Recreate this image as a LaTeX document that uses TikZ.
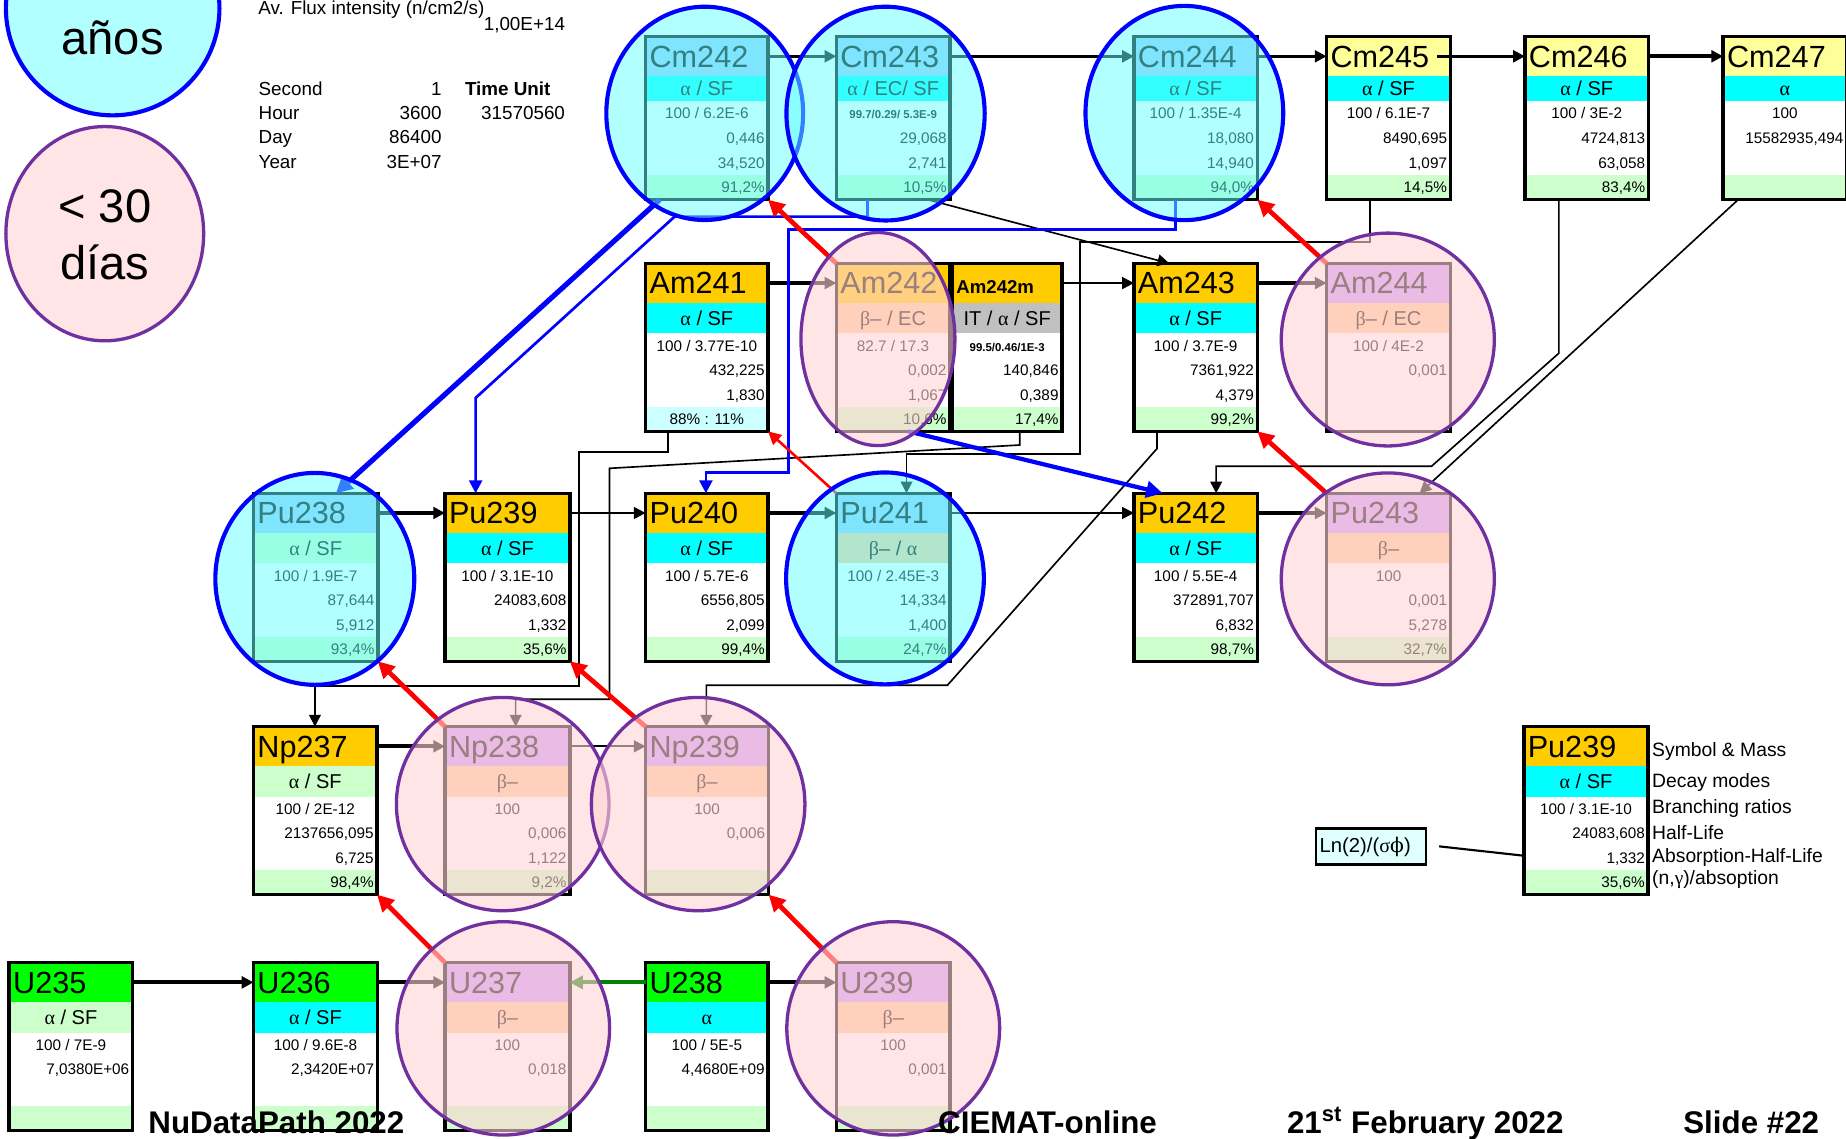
\documentclass[tikz,border=0pt]{standalone}
\usepackage{fontspec}
\setmainfont{Liberation Sans}
\newfontfamily\grk{Liberation Serif}
\newfontfamily\grkd{DejaVu Serif}
\usetikzlibrary{arrows.meta,calc}
\definecolor{hAm}{HTML}{FFCC00}
\definecolor{hCm}{HTML}{FFFF99}
\definecolor{hBl}{HTML}{99CCFF}
\definecolor{hLv}{HTML}{CC99FF}
\definecolor{hU}{HTML}{00FF00}
\definecolor{dCy}{HTML}{00FFFF}
\definecolor{dGr}{HTML}{CCFFCC}
\definecolor{dTn}{HTML}{FFCC99}
\definecolor{dGy}{HTML}{C0C0C0}
\definecolor{lCy}{HTML}{CCFFFF}
\definecolor{ovC}{rgb}{0.4,1,1}
\definecolor{ovP}{rgb}{1,0.83,0.83}
\definecolor{prp}{HTML}{7030A0}
\definecolor{legC}{rgb}{0.7,1,1}
\definecolor{legP}{rgb}{1,0.9,0.9}
\definecolor{lnC}{rgb}{0.88,1,1}
\definecolor{grn}{HTML}{008000}
\newcommand\gAl{{\grk α}}
\newcommand\gBe{{\grk β}}
\newcommand\gGa{{\grk γ}}
\newcommand\gSi{{\grk σ}}
\newcommand\bsm{\fontsize{4.85}{5}\selectfont\bfseries}
\tikzset{
  boxframe/.style={draw=black, line width=1.5pt, inner sep=0pt, outer sep=0pt, rectangle},
  hdr/.style={font=\fontsize{13}{13}\selectfont, inner sep=0pt, anchor=base west},
  dec/.style={font=\fontsize{8.5}{8.5}\selectfont, inner sep=0pt, anchor=base},
  dat/.style={font=\fontsize{6.5}{6.5}\selectfont, inner sep=0pt},
  lbl/.style={font=\fontsize{8}{8}\selectfont, inner sep=0pt},
  lgl/.style={font=\fontsize{8.2}{8.2}\selectfont, inner sep=0pt, anchor=base west},
  foot/.style={font=\fontsize{13.3}{13.3}\selectfont\bfseries, inner sep=0pt, anchor=base west},
  big/.style={font=\fontsize{20}{20}\selectfont, inner sep=0pt, anchor=base},
  arr/.style={-{Triangle[length=5pt,width=5pt]}, line width=0.85pt},
  arrM/.style={arr, line width=1.2pt},
  arrT/.style={arr, line width=1.7pt},
  blkP/.style={-{Triangle[length=5pt,width=5pt]}, line width=0.7pt},
  redA/.style={draw=red, line width=2pt, -{Triangle[length=7pt,width=7pt]}},
  redAt/.style={draw=red, line width=1.1pt, -{Triangle[length=5.5pt,width=5.5pt]}},
  bluA/.style={draw=blue, line width=1.15pt, -{Triangle[length=5.5pt,width=5.5pt]}},
  bluAt/.style={draw=blue, line width=2.2pt, -{Triangle[length=7pt,width=7pt]}},
  grnA/.style={draw=grn, line width=1.7pt, -{Triangle[length=5.5pt,width=5.5pt]}},
  ovcyan/.style={fill=ovC, fill opacity=0.5, draw=blue, line width=1.75pt},
  ovpink/.style={fill=ovP, fill opacity=0.6, draw=prp, line width=1.4pt}
}
% row geometry (decay row height, data row height)
\def\decH{21}\def\rowH{21}
\newcommand\nrows[5]{%
  \fill[#5] (\bx,\by+33.5+\decH+3*\rowH) rectangle ++(\bw,\rowH);
  \node[dat,anchor=base] (\bid-br) at (\bx+\bw/2,\by+33.5+\decH+0.5*\rowH+4.65) {#1};
  \node[dat,anchor=base east] (\bid-hl) at (\bx+\bw-2.5,\by+33.5+\decH+1.5*\rowH+4.65) {#2};
  \node[dat,anchor=base east] (\bid-al) at (\bx+\bw-2.5,\by+33.5+\decH+2.5*\rowH+4.65) {#3};
  \node[dat,anchor=base east] (\bid-ng) at (\bx+\bw-2.5,\by+33.5+\decH+3.5*\rowH+4.65) {#4};
}
\newcommand\nbox[9]{%
  \def\bx{#2}\def\by{#3}\def\bw{#4}\def\bid{#1}%
  \fill[#5] (#2,#3) rectangle ++(#4,33.5);
  \fill[#7] (#2,#3+33.5) rectangle ++(#4,\decH);
  \fill[white] (#2,#3+33.5+\decH) rectangle ++(#4,3*\rowH);
  \node[hdr] (#1-name) at (#2+3,#3+26) {#6};
  \node[dec] (#1-mode) at (#2+#4/2,#3+33.5+0.5*\decH+6) {#8};
  \nrows#9
  \node[boxframe, minimum width=#4*0.5pt, minimum height={(33.5+\decH+4*\rowH)*0.5pt}, anchor=north west] (#1) at (#2,#3) {};
  \coordinate (#1-hw) at (#2,#3+16.75);
  \coordinate (#1-he) at (#2+#4,#3+16.75);
}
\begin{document}
\begin{tikzpicture}[x=0.5pt,y=-0.5pt]
\useasboundingbox (0,0) rectangle (1568,967);
\clip (0,0) rectangle (1568,967);
\fill[white] (0,0) rectangle (1568,967);
% ---------- boxes: curium row ----------
\def\decH{21}\def\rowH{21}
\nbox{Cm242}{548.4}{31.1}{104}{hBl}{Cm242}{dCy}{\gAl{} / SF}{{100 / 6.2E-6}{0,446}{34,520}{91,2\%}{dGr}}
\nbox{Cm243}{710.4}{31.1}{96.6}{hBl}{Cm243}{dCy}{\gAl{} / EC/ SF}{{\bsm 99.7/0.29/ 5.3E-9}{29,068}{2,741}{10,5\%}{dGr}}
\nbox{Cm244}{963.2}{31.1}{104.8}{hBl}{Cm244}{dCy}{\gAl{} / SF}{{100 / 1.35E-4}{18,080}{14,940}{94,0\%}{dGr}}
\nbox{Cm245}{1126.8}{31.1}{105.2}{hCm}{Cm245}{dCy}{\gAl{} / SF}{{100 / 6.1E-7}{8490,695}{1,097}{14,5\%}{dGr}}
\nbox{Cm246}{1295.3}{31.1}{105}{hCm}{Cm246}{dCy}{\gAl{} / SF}{{100 / 3E-2}{4724,813}{63,058}{83,4\%}{dGr}}
\nbox{Cm247}{1463.6}{31.1}{105}{hCm}{Cm247}{dCy}{\gAl}{{100}{15582935,494}{}{}{dGr}}
% ---------- other rows ----------
\def\decH{26}\def\rowH{20.8}
\nbox{Am241}{548.4}{223.7}{104}{hAm}{Am241}{dCy}{\gAl{} / SF}{{100 / 3.77E-10}{432,225}{1,830}{}{lCy}}
\node[dat,anchor=base] (Am241-nx) at (600.4,360.9) {88\% : 11\%};
\nbox{Am242}{710.4}{223.7}{96.4}{hAm}{Am242}{dTn}{\gBe– / EC}{{82.7 / 17.3}{0,002}{1,067}{10,6\%}{dGr}}
\nbox{Am242m}{809}{223.7}{93}{hAm}{\fontsize{7.9}{8}\selectfont\bfseries Am242m}{dGy}{IT / \gAl{} / SF}{{\bsm 99.5/0.46/1E-3}{140,846}{0,389}{17,4\%}{dGr}}
\nbox{Am243}{963.2}{223.7}{104.8}{hAm}{Am243}{dCy}{\gAl{} / SF}{{100 / 3.7E-9}{7361,922}{4,379}{99,2\%}{dGr}}
\nbox{Am244}{1126.8}{223.7}{105.2}{hLv}{Am244}{dTn}{\gBe– / EC}{{100 / 4E-2}{0,001}{}{}{white}}
\nbox{Pu238}{215.3}{419}{105.6}{hBl}{Pu238}{dGr}{\gAl{} / SF}{{100 / 1.9E-7}{87,644}{5,912}{93,4\%}{dGr}}
\nbox{Pu239}{378}{419}{106}{hAm}{Pu239}{dCy}{\gAl{} / SF}{{100 / 3.1E-10}{24083,608}{1,332}{35,6\%}{dGr}}
\nbox{Pu240}{548.4}{419}{104}{hAm}{Pu240}{dCy}{\gAl{} / SF}{{100 / 5.7E-6}{6556,805}{2,099}{99,4\%}{dGr}}
\nbox{Pu241}{710.4}{419}{96.6}{hBl}{Pu241}{dTn}{\gBe– / \gAl}{{100 / 2.45E-3}{14,334}{1,400}{24,7\%}{dGr}}
\nbox{Pu242}{963.2}{419}{104.8}{hAm}{Pu242}{dCy}{\gAl{} / SF}{{100 / 5.5E-4}{372891,707}{6,832}{98,7\%}{dGr}}
\nbox{Pu243}{1126.8}{419}{105.2}{hLv}{Pu243}{dTn}{\gBe–}{{100}{0,001}{5,278}{32,7\%}{dGr}}
\nbox{Np237}{215.3}{617.2}{105}{hAm}{Np237}{dGr}{\gAl{} / SF}{{100 / 2E-12}{2137656,095}{6,725}{98,4\%}{dGr}}
\nbox{Np238}{378}{617.2}{106}{hLv}{Np238}{dTn}{\gBe–}{{100}{0,006}{1,122}{9,2\%}{dGr}}
\nbox{Np239}{548.4}{617.2}{104.5}{hLv}{Np239}{dTn}{\gBe–}{{100}{0,006}{}{}{dGr}}
\nbox{Lg}{1294.3}{617.2}{105.7}{hAm}{Pu239}{dCy}{\gAl{} / SF}{{100 / 3.1E-10}{24083,608}{1,332}{35,6\%}{dGr}}
\nbox{U235}{7.8}{817.7}{104.9}{hU}{U235}{dGr}{\gAl{} / SF}{{100 / 7E-9}{7,0380E+06}{}{}{dGr}}
\nbox{U236}{215.3}{817.7}{105.3}{hU}{U236}{dCy}{\gAl{} / SF}{{100 / 9.6E-8}{2,3420E+07}{}{}{dGr}}
\nbox{U237}{378}{817.7}{106}{hLv}{U237}{dTn}{\gBe–}{{100}{0,018}{}{}{dGr}}
\nbox{U238}{548.4}{817.7}{104}{hU}{U238}{dCy}{\gAl}{{100 / 5E-5}{4,4680E+09}{}{}{dGr}}
\nbox{U239}{710.4}{817.7}{96.6}{hLv}{U239}{dTn}{\gBe–}{{100}{0,001}{}{}{dGr}}
% ---------- capture arrows ----------
\draw[arrM] (Cm242-he) -- (Cm243-hw);
\draw[arrM] (Cm243-he) -- (Cm244-hw);
\draw[arrM] (Cm244-he) -- (Cm245-hw);
\draw[arrM] ([xshift=-5.5pt]Cm245-he) -- (Cm246-hw);
\draw[arrT] (Cm246-he) -- (Cm247-hw);
\draw[arrT] (Am241-he) -- (Am242-hw);
\draw[arr] (Am242m-he) -- (Am243-hw);
\draw[arrT] (Am243-he) -- (Am244-hw);
\draw[arrT] (Pu238-he) -- (Pu239-hw);
\draw[arr] (Pu239-he) -- (Pu240-hw);
\draw[arrT] (Pu240-he) -- (Pu241-hw);
\draw[arr] (Pu241-he) -- (Pu242-hw);
\draw[arrT] (Pu242-he) -- (Pu243-hw);
\draw[arrT] (Np237-he) -- (Np238-hw);
\draw[arr] (Np238-he) -- (Np239-hw);
\draw[arrT] (U235-he) -- (U236-hw);
\draw[arrT] (U236-he) -- (U237-hw);
\draw[arrT] (U238-he) -- (U239-hw);
\draw[grnA] (U238-hw) -- (U237-he);
% ---------- alpha / EC paths ----------
\draw[blkP] ([xshift=-9.5pt]Cm243.south east) -- ([xshift=15pt]Am243.north west);
\draw[blkP] ([xshift=18.5pt]Cm245.south west) -- ++(0,36) -| (917.3,385.6) -| ([xshift=29.8pt]Pu241.north west);
\draw[blkP] ([xshift=14.4pt]Cm246.south west) -- ++(0,130.4) -- (1216,396) -| ([xshift=34.9pt]Pu242.north west);
\draw[blkP] ([xshift=6.4pt]Cm247.south west) -- ([xshift=39.5pt]Pu243.north west);
\draw[blkP] ([xshift=9.5pt]Am241.south west) -- ++(0,17.3) -| (491.7,582.7) -| ([xshift=26.1pt]Np237.north west);
\draw[blkP] ([xshift=28.6pt]Am242m.south west) -- ++(0,11.6) -- (517.7,397.8) -- (517.7,594) -| ([xshift=30pt]Np238.north west);
\draw[blkP] ([xshift=9.8pt]Am243.south west) -- ++(0,14.6) -- (804.8,582) -| ([xshift=25.8pt]Np239.north west);
\draw[bluAt] ([xshift=6pt]Cm242.south west) -- ([xshift=35pt]Pu238.north west);
\draw[bluA] ([xshift=13.2pt]Cm243.south west) -- ++(0,14.4) -- (573,184) -- (404,338) -- ([xshift=13pt]Pu239.north west);
\draw[bluA] ([xshift=17.5pt]Cm244.south west) -- ++(0,25.2) -| (669.8,401.5) -| ([xshift=25.6pt]Pu240.north west);
\draw[bluAt, line width=1.8pt] ([xshift=30.5pt]Am242.south west) -- ([xshift=12.2pt]Pu242.north west);
% ---------- beta arrows ----------
\draw[redA] (U239.north west) -- (Np239.south east);
\draw[redA] (U237.north west) -- (Np237.south east);
\draw[redA] (Np239.north west) -- (Pu239.south east);
\draw[redA] (Np238.north west) -- (Pu238.south east);
\draw[redAt] (Pu241.north west) -- (Am241.south east);
\draw[redA] (Pu243.north west) -- (Am243.south east);
\draw[redA] (Am242.north west) -- (Cm242.south east);
\draw[redA] (Am244.north west) -- (Cm244.south east);
% ---------- overlays ----------
\path[ovcyan] (598.6,96.3) ellipse [x radius=41.8pt, y radius=45.3pt];
\path[ovcyan] (752.2,96.5) ellipse [x radius=42.1pt, y radius=45.4pt];
\path[ovcyan] (1006,96) ellipse [x radius=42pt, y radius=45.5pt];
\path[ovpink] (745.7,288) ellipse [x radius=32.7pt, y radius=45.25pt];
\path[ovpink] (1178.8,288.4) ellipse [x radius=45.25pt, y radius=45.2pt];
\path[ovcyan] (267.4,491.7) ellipse [x radius=42.25pt, y radius=45pt];
\path[ovcyan] (751.7,491.3) ellipse [x radius=42pt, y radius=45pt];
\path[ovpink] (1178.8,491.7) ellipse [x radius=45.25pt, y radius=45pt];
\path[ovpink] (427,683) ellipse [x radius=45.15pt, y radius=45.3pt];
\path[ovpink] (593,683) ellipse [x radius=45.35pt, y radius=45.3pt];
\path[ovpink] (427.5,873.5) ellipse [x radius=45.15pt, y radius=45.3pt];
\path[ovpink] (758.7,873.5) ellipse [x radius=45.2pt, y radius=45.3pt];
% ---------- legend circles ----------
\path[fill=legC, draw=blue, line width=1.75pt] (95.7,7) ellipse [x radius=45.35pt, y radius=45.5pt];
\node[big] (anos) at (95.7,46.7) {años};
\path[fill=legP, draw=prp, line width=1.4pt] (89,198.5) ellipse [x radius=42pt, y radius=45.5pt];
\node[big] (dias1) at (89,189.2) {< 30};
\node[big] (dias2) at (89,237.3) {días};
% ---------- parameters ----------
\node[lbl, anchor=base west] (flux) at (219,12) {Av. Flux intensity (n/cm2/s)};
\node[lbl, anchor=base east] (fluxv) at (480.3,25.5) {1,00E+14};
\node[lbl, anchor=base west] (tS) at (219.3,81.3) {Second};
\node[lbl, anchor=base west] (tH) at (219.3,101.4) {Hour};
\node[lbl, anchor=base west] (tD) at (219.3,122.3) {Day};
\node[lbl, anchor=base west] (tY) at (219.3,143) {Year};
\node[lbl, anchor=base east] (vS) at (375.5,81.3) {1};
\node[lbl, anchor=base east] (vH) at (375.5,101.4) {3600};
\node[lbl, anchor=base east] (vD) at (375.5,122.3) {86400};
\node[lbl, anchor=base east] (vY) at (375.5,143) {3E+07};
\node[lbl, anchor=base west, font=\fontsize{8}{8}\selectfont\bfseries] (tu) at (394.6,81.3) {Time Unit};
\node[lbl, anchor=base east] (tuv) at (480.3,101.4) {31570560};
% ---------- legend labels ----------
\node[lgl] (l1) at (1403,642.7) {Symbol \& Mass};
\node[lgl] (l2) at (1403,668.8) {Decay modes};
\node[lgl] (l3) at (1403,691.4) {Branching ratios};
\node[lgl] (l4) at (1403,712.7) {Half-Life};
\node[lgl] (l5) at (1403,732.7) {Absorption-Half-Life};
\node[lgl] (l6) at (1403,751.7) {(n,\gGa)/absoption};
\node[draw=black, line width=1pt, fill=lnC, minimum width=46.75pt, minimum height=15.3pt, inner sep=0pt] (Ln) at (1164.65,718.9) {};
\node[lbl, anchor=west, font=\fontsize{8.6}{8.6}\selectfont] (LnT) at (1120.5,719.5) {Ln(2)/(\gSi{\grkd ϕ})};
\draw[line width=0.9pt] ([xshift=5pt]Ln.east) -- ([yshift=-19.15pt]Lg.west);
% ---------- footer ----------
\node[foot] (f1) at (125.7,962.7) {NuDataPath 2022};
\node[foot] (f2) at (796.5,962.7) {CIEMAT-online};
\node[foot] (f3) at (1092.8,962.7) {21\textsuperscript{st} February 2022};
\node[foot] (f4) at (1429.4,962.7) {Slide \#22};
\end{tikzpicture}
\end{document}
